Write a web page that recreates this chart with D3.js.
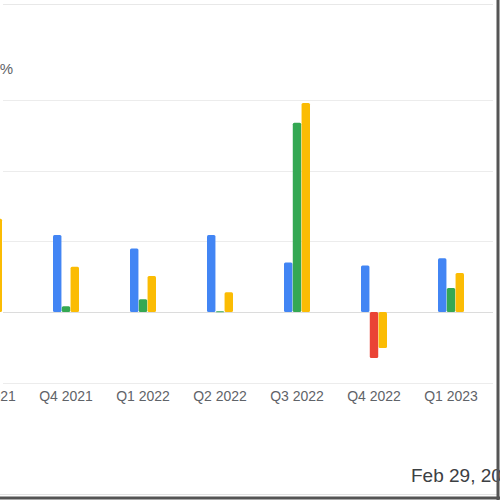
<!DOCTYPE html>
<html>
<head>
<meta charset="utf-8">
<script src="https://cdn.jsdelivr.net/npm/d3@7"></script>
<style>
  body { margin: 0; background: #fff; }
  svg { display: block; font-family: "Liberation Sans", Arial, sans-serif; }
</style>
</head>
<body>
<svg id="chart" width="500" height="500"></svg>
<script>
// quarters shown (chart is cropped on both sides)
var quarters = ["Q3 2021", "Q4 2021", "Q1 2022", "Q2 2022", "Q3 2022", "Q4 2022", "Q1 2023"];
var seriesNames = ["a", "b", "c"];
// growth values in %
var seriesA = [40, 54.5, 45, 54.5, 35, 33, 38];
var seriesB = [10, 4, 9, 0.5, 134, -32.6, 17];
var seriesC = [66, 32, 25.5, 14, 148, -25.5, 27.6];
var yTicks = [-50, 0, 50, 100, 150];
var dateLabel = "Feb 29, 2024";

var colors = { a: "#4285f4", b: "#34a853", c: "#fbbc04", neg: "#ea4335" };

var svg = d3.select("#chart");

var data = quarters.map(function(q, i) {
    return { q: q, a: seriesA[i], b: seriesB[i], c: seriesC[i] };
});

// step of 77px per quarter, first one partly off the left edge
var x = d3.scaleBand().domain(quarters).range([-49.5, -49.5 + 77 * quarters.length]);
var xs = d3.scaleBand().domain(seriesNames).range([-13, 13]).paddingInner(0.04);
var y = d3.scaleLinear().domain([0, 150]).range([312, 100.2]);

// frame lines
svg.append("line")
    .attr("x1", 3).attr("x2", 493).attr("y1", 4.5).attr("y2", 4.5)
    .attr("stroke", "#e8e8e8");

// gridlines
svg.append("g")
    .selectAll("line")
    .data(yTicks)
    .enter().append("line")
    .attr("x1", 3).attr("x2", 493)
    .attr("y1", function(d) { return Math.round(y(d)) + 0.5; })
    .attr("y2", function(d) { return Math.round(y(d)) + 0.5; })
    .attr("stroke", function(d) { return d === 0 ? "#dcdcdc" : "#ececec"; })
    .attr("stroke-width", 1.2);

// bars
var groups = svg.append("g")
    .selectAll("g")
    .data(data)
    .enter().append("g")
    .attr("transform", function(d) { return "translate(" + (x(d.q) + x.bandwidth() / 2) + ",0)"; });

groups.selectAll("rect")
    .data(function(d) { return seriesNames.map(function(k) { return { k: k, v: d[k] }; }); })
    .enter().append("rect")
    .attr("x", function(d) { return xs(d.k); })
    .attr("width", xs.bandwidth())
    .attr("y", function(d) { return Math.min(y(d.v), y(0)); })
    .attr("height", function(d) { return Math.max(Math.abs(y(d.v) - y(0)), 1); })
    .attr("rx", 1.5)
    .attr("fill", function(d) { return (d.k === "b" && d.v < 0) ? colors.neg : colors[d.k]; });

// x axis labels
svg.append("g")
    .selectAll("text")
    .data(quarters)
    .enter().append("text")
    .attr("x", function(d) { return x(d) + x.bandwidth() / 2; })
    .attr("y", 401)
    .attr("text-anchor", "middle")
    .attr("fill", "#5f6368")
    .style("font-size", "14px")
    .text(function(d) { return d; });

// cut-off legend/title text on the left
svg.append("text")
    .attr("x", 13)
    .attr("y", 74)
    .attr("text-anchor", "end")
    .attr("fill", "#5f6368")
    .style("font-size", "15px")
    .text("Growth %");

// date caption, cut off on the right
svg.append("text")
    .attr("x", 411)
    .attr("y", 482)
    .attr("fill", "#3c4043")
    .style("font-size", "19px")
    .text(dateLabel);

// outer border
svg.append("line")
    .attr("x1", 0).attr("x2", 497).attr("y1", 494.5).attr("y2", 494.5)
    .attr("stroke", "#e4e4e4");
svg.append("line")
    .attr("x1", 0).attr("x2", 500).attr("y1", 498).attr("y2", 498)
    .attr("stroke", "#555").attr("stroke-width", 3);
svg.append("line")
    .attr("x1", 498).attr("x2", 498).attr("y1", 0).attr("y2", 500)
    .attr("stroke", "#555").attr("stroke-width", 3);
</script>
</body>
</html>
